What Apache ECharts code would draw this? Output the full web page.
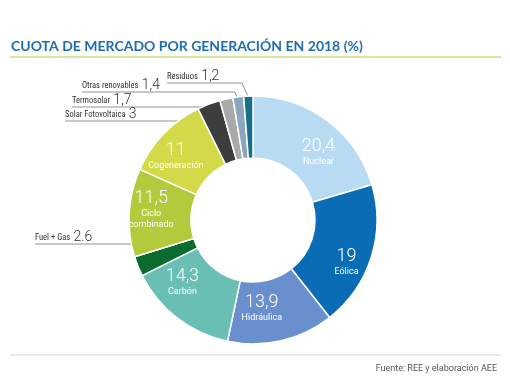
<!DOCTYPE html>
<html><head><meta charset="utf-8">
<script src="https://cdn.jsdelivr.net/npm/echarts@6/dist/echarts.min.js"></script>
<style>html,body{margin:0;padding:0;background:#fff}#c{width:510px;height:382px}</style>
</head><body><div id="c"></div>
<script>
const categories = ['Nuclear','Eólica','Hidráulica','Carbón','Fuel + Gas','Ciclo\ncombinado','Cogeneración','Solar Fotovoltaica','Termosolar','Otras renovables','Residuos'];
const values = [20.4, 19, 13.9, 14.3, 2.6, 11.5, 11, 3, 1.7, 1.4, 1.2];
const valueLabels = ['20,4','19','13,9','14,3','2.6','11,5','11','3','1,7','1,4','1,2'];
const colors = ['#b8daf3','#0b6cb6','#6a8fcf','#6abfb4','#0a6b2e','#b3ca3c','#d3da4a','#3d3d3d','#a9a9a9','#8aa7bf','#17708a'];
const outside = [4, 7, 8, 9, 10];

// nudges of the inside labels
const insideOffsets = {0: [8, 9], 1: [2, 13], 2: [-13, -5], 3: [-12, -14], 5: [-6, -5], 6: [-8, 3]};
// layout of the callout labels: left x of label, y of underline, bend x, radius of line end
const callouts = {
  4:  {x: 35,  y: 244, bend: 150, r: 100},
  7:  {x: 65,  y: 121, bend: 207, r: 93},
  8:  {x: 72,  y: 107, bend: 213, r: 101},
  9:  {x: 82,  y: 92,  bend: 235, r: 117},
  10: {x: 167, y: 83,  bend: 242, r: 123}
};
const CX = 253, CY = 220, R0 = 62, R1 = 124;
const condensed = '"Roboto Condensed", "DejaVu Sans Condensed", Roboto, sans-serif';

const chart = echarts.init(document.getElementById('c'), null, {renderer: 'canvas'});
const data = categories.map((c, i) => {
  const isOut = outside.includes(i);
  return {
    name: c, value: values[i],
    itemStyle: {color: colors[i]},
    label: isOut ? {
      position: 'outside',
      formatter: '{n|' + c + '} {v|' + valueLabels[i] + '}',
      rich: {
        n: {fontSize: 8.5, color: '#333', fontFamily: condensed},
        v: {fontSize: 14, color: '#333', fontFamily: 'Roboto', fontWeight: 300}
      }
    } : {
      position: 'inside',
      offset: insideOffsets[i],
      formatter: '{v|' + valueLabels[i] + '}\n{n|' + c + '}',
      rich: {
        v: {fontSize: 18, color: '#fff', fontFamily: 'Roboto', fontWeight: 300, lineHeight: 19},
        n: {fontSize: 9, color: '#fff', fontFamily: 'Roboto', lineHeight: 11}
      }
    },
    labelLine: {show: isOut, lineStyle: {color: '#777', width: 0.8}}
  };
});

chart.setOption({
  animation: false,
  title: [{
    text: 'CUOTA DE MERCADO POR GENERACIÓN EN 2018 (%)',
    left: 6, top: 34,
    textStyle: {fontSize: 14, fontWeight: 'bold', color: '#1d6db3', fontFamily: 'Lato'}
  }, {
    text: 'Fuente: REE y elaboración AEE',
    right: 8, top: 359,
    textStyle: {fontSize: 9, fontWeight: 'normal', color: '#555', fontFamily: 'Roboto'}
  }],
  graphic: [
    {type: 'line', shape: {x1: 10, y1: 57, x2: 501, y2: 57}, style: {stroke: '#b5cc3a', lineWidth: 1.2}},
    {type: 'line', shape: {x1: 10, y1: 355, x2: 501, y2: 355}, style: {stroke: '#d0d0d0', lineWidth: 1.2}}
  ],
  series: [{
    type: 'pie',
    center: [CX, CY],
    radius: [R0, R1],
    startAngle: 90,
    clockwise: true,
    avoidLabelOverlap: false,
    itemStyle: {borderColor: '#fff', borderWidth: 1.5},
    data: data,
    labelLayout: function (p) {
      const c = callouts[p.dataIndex];
      if (!c || !p.labelLinePoints) return {};
      const p0 = p.labelLinePoints[0];
      const dx = p0[0] - CX, dy = p0[1] - CY;
      const len = Math.sqrt(dx * dx + dy * dy);
      const ex = CX + dx / len * c.r, ey = CY + dy / len * c.r;
      return {
        x: c.x, y: c.y + 0.5,
        align: 'left', verticalAlign: 'bottom',
        labelLinePoints: [[ex, ey], [c.bend, c.y], [c.x, c.y]]
      };
    }
  }]
});
</script>
</body></html>
